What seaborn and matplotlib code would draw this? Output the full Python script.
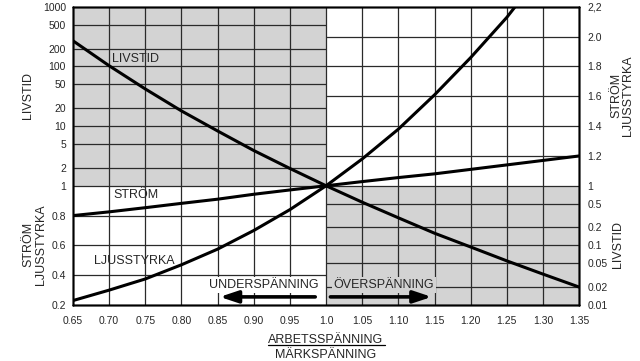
import numpy as np
import pandas as pd
import matplotlib
matplotlib.use("Agg")
import matplotlib.pyplot as plt
from matplotlib.lines import Line2D
import seaborn as sns

# values (relative to rated voltage)
spanning = [0.65, 0.70, 0.75, 0.80, 0.85, 0.90, 0.95, 1.00,
            1.05, 1.10, 1.15, 1.20, 1.25, 1.30, 1.35]
livstid = [270, 103, 42, 18, 8.3, 3.9, 1.95, 1.0,
           0.53, 0.29, 0.16, 0.094, 0.055, 0.033, 0.020]
strom = [0.80, 0.825, 0.853, 0.882, 0.91, 0.943, 0.972, 1.0,
         1.028, 1.055, 1.08, 1.11, 1.14, 1.17, 1.20]
ljusstyrka = [0.23, 0.30, 0.375, 0.47, 0.575, 0.70, 0.84, 1.0,
              1.18, 1.38, 1.61, 1.86, 2.13, 2.44, 2.78]

x_ticks = [0.65, 0.70, 0.75, 0.80, 0.85, 0.90, 0.95, 1.00,
           1.05, 1.10, 1.15, 1.20, 1.25, 1.30, 1.35]
x_labels = ["0.65", "0.70", "0.75", "0.80", "0.85", "0.90", "0.95", "1.0",
            "1.05", "1.10", "1.15", "1.20", "1.25", "1.30", "1.35"]
# the shared "1" is labelled once on each side (linear left, log right)
lin_left = [0.2, 0.4, 0.6, 0.8, 1.0]
lin_left_labels = ["0.2", "0.4", "0.6", "0.8", "1"]
lin_right = [1.2, 1.4, 1.6, 1.8, 2.0, 2.2]
lin_right_labels = ["1.2", "1.4", "1.6", "1.8", "2.0", "2,2"]
log_left = [2, 5, 10, 20, 50, 100, 200, 500, 1000]
log_left_labels = ["2", "5", "10", "20", "50", "100", "200", "500", "1000"]
log_right = [0.01, 0.02, 0.05, 0.1, 0.2, 0.5, 1]
log_right_labels = ["0.01", "0.02", "0.05", "0.1", "0.2", "0.5", "1"]

df = pd.DataFrame({"spanning": spanning, "livstid": livstid,
                   "strom": strom, "ljusstyrka": ljusstyrka})

sns.set_theme(style="white")
plt.rcParams["font.family"] = ["Liberation Sans", "DejaVu Sans"]

GREY = "#d3d3d3"
GRID = "#2a2a2a"
TICK_FS = 7.5
TXT_FS = 9

fig = plt.figure(figsize=(6.4, 3.61), dpi=100)
ax = fig.add_axes([0.114, 0.155, 0.791, 0.826])
ax.set_xlim(0.65, 1.35)
ax.set_ylim(0.2, 2.2)

ax_r = ax.twinx()
ax_r.set_ylim(0.2, 2.2)
ax_log = ax.twinx()
ax_log.set_yscale("log")
ax_log.set_ylim(0.01, 1000)
ax_logr = ax.twinx()
ax_logr.set_yscale("log")
ax_logr.set_ylim(0.01, 1000)

# shaded quadrants
ax.fill_between([0.65, 1.0], 1.0, 2.2, color=GREY, lw=0, zorder=0)
ax.fill_between([1.0, 1.35], 0.2, 1.0, color=GREY, lw=0, zorder=0)

# grid: verticals everywhere, linear rows in white quadrants, log rows in grey ones
for xv in x_ticks[1:-1]:
    ax.axvline(xv, color=GRID, lw=0.9, zorder=1)
ax.axhline(1.0, color=GRID, lw=0.9, zorder=1)
ax.hlines([0.4, 0.6, 0.8], 0.65, 1.0, color=GRID, lw=0.9, zorder=1)
ax.hlines([1.2, 1.4, 1.6, 1.8, 2.0], 1.0, 1.35, color=GRID, lw=0.9, zorder=1)
ax_log.hlines([2, 5, 10, 20, 50, 100, 200, 500], 0.65, 1.0, color=GRID, lw=0.9, zorder=1)
ax_log.hlines([0.02, 0.05, 0.1, 0.2, 0.5], 1.0, 1.35, color=GRID, lw=0.9, zorder=1)

# curves
sns.lineplot(data=df, x="spanning", y="strom", ax=ax, color="black", lw=2.2, zorder=3)
sns.lineplot(data=df, x="spanning", y="ljusstyrka", ax=ax, color="black", lw=2.2, zorder=3)
sns.lineplot(data=df, x="spanning", y="livstid", ax=ax_log, color="black", lw=2.2, zorder=3)

# ticks
ax.set_xticks(x_ticks, x_labels)
ax.set_yticks(lin_left, lin_left_labels)
ax.tick_params(axis="x", length=0, pad=8, labelsize=TICK_FS)
ax.tick_params(axis="y", length=0, pad=5, labelsize=TICK_FS, left=False, right=False,
               labelleft=True, labelright=False)
ax_r.set_yticks(lin_right, lin_right_labels)
ax_r.tick_params(axis="y", length=0, pad=6, labelsize=TICK_FS)
ax_log.set_yticks(log_left, log_left_labels)
ax_log.yaxis.set_minor_locator(matplotlib.ticker.NullLocator())
ax_log.tick_params(axis="y", length=0, pad=5, labelsize=TICK_FS,
                   labelleft=True, labelright=False)
ax_logr.set_yticks(log_right, log_right_labels)
ax_logr.yaxis.set_minor_locator(matplotlib.ticker.NullLocator())
ax_logr.tick_params(axis="y", length=0, pad=6, labelsize=TICK_FS)

for a in (ax, ax_r, ax_log, ax_logr):
    a.set_xlabel("")
    a.set_ylabel("")
    a.grid(False)
    for s in a.spines.values():
        s.set_color("black")
        s.set_linewidth(1.0)

# curve labels
ax_log.text(0.737, 135, "LIVSTID", fontsize=TXT_FS, ha="center", va="center", zorder=5)
ax.text(0.737, 0.94, "STRÖM", fontsize=TXT_FS, ha="center", va="center", zorder=5)
ax.text(0.735, 0.495, "LJUSSTYRKA", fontsize=TXT_FS, ha="center", va="center", zorder=5)

# under/over voltage annotations (on the top axes so they cover the grid)
ax_logr.text(0.914, 0.0215, "UNDERSPÄNNING", fontsize=TXT_FS, ha="center", va="center",
             zorder=5, bbox=dict(facecolor="white", edgecolor="none", pad=1.5))
ax_logr.text(1.080, 0.0215, "ÖVERSPÄNNING", fontsize=TXT_FS, ha="center", va="center",
             zorder=5, bbox=dict(facecolor=GREY, edgecolor="none", pad=1.5))
arrow = dict(arrowstyle="-|>,head_length=0.9,head_width=0.3", color="black", lw=2.6,
             shrinkA=0, shrinkB=0)
ax_logr.annotate("", xy=(0.853, 0.0137), xytext=(0.985, 0.0137), arrowprops=arrow, zorder=5)
ax_logr.annotate("", xy=(1.146, 0.0137), xytext=(1.006, 0.0137), arrowprops=arrow, zorder=5)

# axis titles
fig.text(0.044, 0.735, "LIVSTID", rotation=90, fontsize=TXT_FS, ha="center", va="center")
fig.text(0.054, 0.322, "STRÖM\nLJUSSTYRKA", rotation=90, fontsize=TXT_FS, ha="center",
         va="center", linespacing=1.0)
fig.text(0.972, 0.735, "STRÖM\nLJUSSTYRKA", rotation=90, fontsize=TXT_FS, ha="center",
         va="center", linespacing=1.0)
fig.text(0.966, 0.322, "LIVSTID", rotation=90, fontsize=TXT_FS, ha="center", va="center")

# x label as a fraction
fig.text(0.509, 0.050, "ARBETSSPÄNNING", fontsize=TXT_FS, ha="center", va="baseline")
fig.text(0.509, 0.009, "MÄRKSPÄNNING", fontsize=TXT_FS, ha="center", va="baseline")
fig.add_artist(Line2D([0.418, 0.601], [0.043, 0.043], color="black", lw=0.9,
                      transform=fig.transFigure))

fig.savefig("out.png", dpi=100)
